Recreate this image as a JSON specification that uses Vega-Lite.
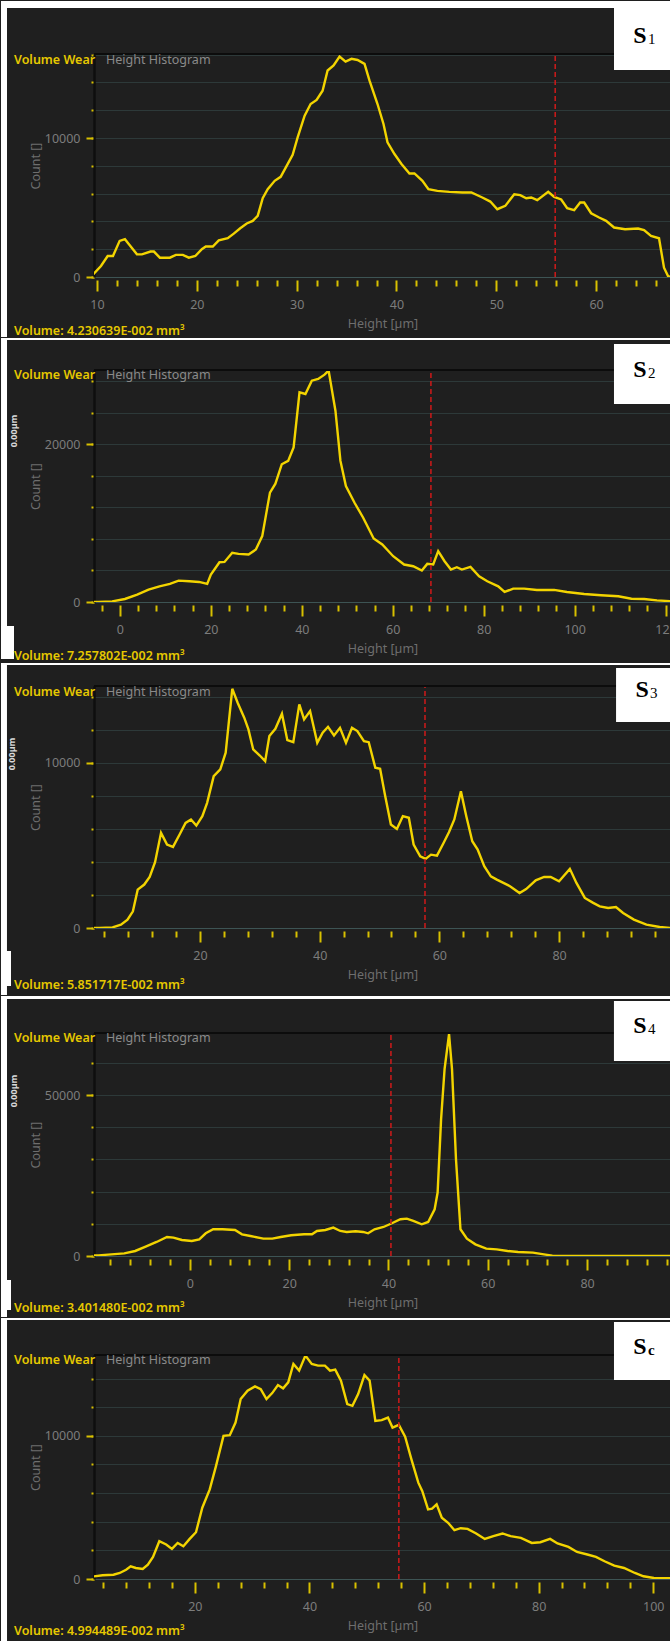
{
"$schema": "https://vega.github.io/schema/vega-lite/v6.json",
"background": "#1f1f1f",
"padding": 0,
"spacing": 0,
"bounds": "full",
"config": {
  "view": {"stroke": null},
  "axis": {"labelFont": "Noto Sans", "labelFontSize": 12.5, "labelColor": "#7c7c7c", "titleFont": "Noto Sans", "titleFontSize": 12.5, "titleFontWeight": "normal", "titleColor": "#6e6e6e", "tickColor": "#d8c000", "tickWidth": 2, "labelFlush": false, "labelOverlap": false},
  "axisX": {"domain": false, "grid": false, "offset": 3, "labelPadding": 7, "titlePadding": 7},
  "axisY": {"domain": true, "domainColor": "#0e0e0e", "domainWidth": 2, "minExtent": 46, "maxExtent": 46, "labelPadding": 6, "titlePadding": 6},
  "text": {"font": "Noto Sans"}
},
"datasets": {
"s1": [{"height":9.36,"count":0},{"height":10.4,"count":790},{"height":11.07,"count":1510},{"height":11.6,"count":1510},{"height":12.27,"count":2600},{"height":12.8,"count":2720},{"height":13.2,"count":2360},{"height":14.0,"count":1630},{"height":14.5,"count":1630},{"height":15.36,"count":1830},{"height":15.7,"count":1830},{"height":16.3,"count":1390},{"height":17.3,"count":1390},{"height":17.9,"count":1590},{"height":18.6,"count":1590},{"height":19.2,"count":1390},{"height":19.85,"count":1510},{"height":20.5,"count":2000},{"height":20.9,"count":2190},{"height":21.6,"count":2190},{"height":22.2,"count":2640},{"height":23.1,"count":2790},{"height":23.7,"count":3125},{"height":24.35,"count":3510},{"height":25.0,"count":3850},{"height":25.6,"count":4040},{"height":26.1,"count":4400},{"height":26.6,"count":5670},{"height":27.1,"count":6320},{"height":27.8,"count":6920},{"height":28.4,"count":7210},{"height":29.0,"count":8000},{"height":29.6,"count":8800},{"height":30.1,"count":10050},{"height":30.8,"count":11610},{"height":31.4,"count":12450},{"height":32.0,"count":12740},{"height":32.6,"count":13410},{"height":33.1,"count":14860},{"height":33.7,"count":15220},{"height":34.3,"count":15870},{"height":34.9,"count":15500},{"height":35.5,"count":15700},{"height":36.1,"count":15620},{"height":36.8,"count":15340},{"height":37.3,"count":14130},{"height":38.1,"count":12450},{"height":38.7,"count":11010},{"height":39.1,"count":9690},{"height":39.8,"count":8850},{"height":40.5,"count":8130},{"height":41.3,"count":7450},{"height":41.8,"count":7450},{"height":42.6,"count":6920},{"height":43.2,"count":6320},{"height":44.1,"count":6200},{"height":45.3,"count":6130},{"height":46.6,"count":6080},{"height":47.5,"count":6080},{"height":48.6,"count":5720},{"height":49.4,"count":5430},{"height":50.1,"count":4880},{"height":50.9,"count":5120},{"height":51.8,"count":5960},{"height":52.4,"count":5890},{"height":53.0,"count":5670},{"height":53.5,"count":5720},{"height":54.1,"count":5530},{"height":55.2,"count":6130},{"height":55.8,"count":5770},{"height":56.5,"count":5580},{"height":57.1,"count":4950},{"height":57.8,"count":4810},{"height":58.4,"count":5360},{"height":58.8,"count":5360},{"height":59.5,"count":4590},{"height":60.3,"count":4280},{"height":61.0,"count":4040},{"height":61.8,"count":3560},{"height":62.9,"count":3440},{"height":64.2,"count":3490},{"height":64.8,"count":3370},{"height":65.5,"count":2960},{"height":66.3,"count":2790},{"height":66.8,"count":670},{"height":67.2,"count":70},{"height":67.5,"count":0}],
"s2": [{"height":-5.7,"count":0},{"height":-4.7,"count":0},{"height":-1.7,"count":85},{"height":1.1,"count":380},{"height":3.8,"count":930},{"height":6.3,"count":1570},{"height":8.7,"count":1990},{"height":11.0,"count":2290},{"height":12.9,"count":2710},{"height":15.3,"count":2630},{"height":17.4,"count":2540},{"height":19.2,"count":2290},{"height":20.0,"count":3470},{"height":21.9,"count":5040},{"height":23.0,"count":5080},{"height":24.7,"count":6230},{"height":26.1,"count":6100},{"height":28.3,"count":6020},{"height":29.9,"count":6650},{"height":31.3,"count":8350},{"height":33.0,"count":13860},{"height":34.2,"count":15000},{"height":35.6,"count":17460},{"height":37.0,"count":17880},{"height":38.2,"count":19580},{"height":39.5,"count":26570},{"height":40.8,"count":26360},{"height":42.2,"count":28050},{"height":43.6,"count":28260},{"height":45.0,"count":28810},{"height":45.9,"count":29320},{"height":47.4,"count":24240},{"height":48.5,"count":17880},{"height":49.7,"count":14700},{"height":51.6,"count":12580},{"height":53.5,"count":10680},{"height":55.8,"count":8050},{"height":57.7,"count":7290},{"height":60.1,"count":5800},{"height":62.5,"count":4750},{"height":64.5,"count":4530},{"height":66.4,"count":3980},{"height":67.6,"count":4830},{"height":68.9,"count":4750},{"height":70.0,"count":6440},{"height":71.4,"count":5170},{"height":72.8,"count":4110},{"height":74.1,"count":4410},{"height":75.2,"count":4110},{"height":77.1,"count":4450},{"height":79.0,"count":3260},{"height":80.8,"count":2630},{"height":83.2,"count":1990},{"height":84.6,"count":1270},{"height":86.5,"count":1690},{"height":88.9,"count":1690},{"height":91.7,"count":1530},{"height":95.5,"count":1530},{"height":98.3,"count":1270},{"height":102.1,"count":1020},{"height":105.8,"count":850},{"height":109.6,"count":720},{"height":112.5,"count":420},{"height":115.3,"count":380},{"height":118.1,"count":210},{"height":121.7,"count":85}],
"s3": [{"height":2.3,"count":0},{"height":3.2,"count":0},{"height":5.4,"count":40},{"height":6.8,"count":200},{"height":7.9,"count":500},{"height":8.8,"count":1010},{"height":9.6,"count":2320},{"height":10.7,"count":2630},{"height":11.6,"count":3090},{"height":12.5,"count":3980},{"height":13.5,"count":5760},{"height":14.5,"count":5050},{"height":15.5,"count":4910},{"height":16.6,"count":5660},{"height":17.6,"count":6360},{"height":18.5,"count":6570},{"height":19.4,"count":6200},{"height":20.4,"count":6770},{"height":21.2,"count":7580},{"height":22.3,"count":9190},{"height":23.4,"count":9600},{"height":24.3,"count":10610},{"height":25.4,"count":14480},{"height":26.3,"count":13640},{"height":27.4,"count":12730},{"height":28.1,"count":12020},{"height":28.9,"count":10810},{"height":30.0,"count":10440},{"height":30.9,"count":10100},{"height":31.6,"count":11620},{"height":32.6,"count":12060},{"height":33.7,"count":12970},{"height":34.6,"count":11370},{"height":35.6,"count":11250},{"height":36.6,"count":13540},{"height":37.4,"count":12630},{"height":38.4,"count":13130},{"height":39.6,"count":11210},{"height":40.5,"count":11820},{"height":41.4,"count":12180},{"height":42.4,"count":11660},{"height":43.4,"count":12120},{"height":44.4,"count":11210},{"height":45.4,"count":12120},{"height":46.3,"count":11920},{"height":47.4,"count":11310},{"height":48.2,"count":11250},{"height":49.3,"count":9700},{"height":50.1,"count":9640},{"height":50.9,"count":8080},{"height":51.9,"count":6260},{"height":52.9,"count":6000},{"height":53.9,"count":6770},{"height":54.9,"count":6670},{"height":55.7,"count":5050},{"height":56.8,"count":4340},{"height":57.7,"count":4180},{"height":58.6,"count":4440},{"height":59.6,"count":4380},{"height":60.7,"count":5150},{"height":61.6,"count":5800},{"height":62.5,"count":6570},{"height":63.6,"count":8280},{"height":64.5,"count":6770},{"height":65.5,"count":5250},{"height":66.4,"count":4750},{"height":67.5,"count":3740},{"height":68.6,"count":3130},{"height":69.6,"count":2930},{"height":70.7,"count":2730},{"height":71.8,"count":2530},{"height":73.4,"count":2120},{"height":74.5,"count":2360},{"height":76.1,"count":2890},{"height":77.5,"count":3090},{"height":78.6,"count":3090},{"height":80.0,"count":2830},{"height":81.8,"count":3580},{"height":82.9,"count":2730},{"height":84.3,"count":1820},{"height":85.7,"count":1520},{"height":86.8,"count":1310},{"height":88.2,"count":1210},{"height":89.5,"count":1270},{"height":90.7,"count":910},{"height":92.5,"count":510},{"height":94.6,"count":200},{"height":96.8,"count":60},{"height":98.8,"count":0}],
"s4": [{"height":-19.3,"count":150},{"height":-18.4,"count":210},{"height":-15.8,"count":520},{"height":-13.2,"count":830},{"height":-11.0,"count":1560},{"height":-8.9,"count":2900},{"height":-6.7,"count":4360},{"height":-4.6,"count":5910},{"height":-3.3,"count":5710},{"height":-1.6,"count":4980},{"height":0.4,"count":4670},{"height":1.9,"count":5190},{"height":3.2,"count":7050},{"height":4.7,"count":8300},{"height":6.6,"count":8300},{"height":9.1,"count":8090},{"height":10.5,"count":6740},{"height":12.2,"count":6220},{"height":14.8,"count":5390},{"height":16.6,"count":5390},{"height":18.3,"count":5910},{"height":20.4,"count":6430},{"height":23.0,"count":6740},{"height":24.6,"count":6740},{"height":25.6,"count":7780},{"height":27.3,"count":8090},{"height":28.9,"count":8820},{"height":30.3,"count":7780},{"height":31.6,"count":7470},{"height":33.4,"count":7680},{"height":34.9,"count":7470},{"height":35.9,"count":7050},{"height":37.2,"count":8300},{"height":39.0,"count":9020},{"height":40.7,"count":10170},{"height":42.4,"count":11410},{"height":43.7,"count":11620},{"height":45.0,"count":10890},{"height":46.7,"count":9850},{"height":48.0,"count":10580},{"height":49.3,"count":14520},{"height":49.9,"count":19710},{"height":50.6,"count":42530},{"height":51.3,"count":58090},{"height":52.2,"count":68980},{"height":52.8,"count":58090},{"height":53.6,"count":30080},{"height":54.5,"count":8300},{"height":55.8,"count":5390},{"height":57.5,"count":3630},{"height":59.7,"count":2280},{"height":61.8,"count":2070},{"height":64.0,"count":1560},{"height":66.1,"count":1240},{"height":69.1,"count":1040},{"height":71.3,"count":520},{"height":73.0,"count":100},{"height":75.0,"count":0},{"height":85.0,"count":0},{"height":96.9,"count":0}],
"s5": [{"height":2.4,"count":180},{"height":3.9,"count":260},{"height":5.8,"count":300},{"height":6.9,"count":420},{"height":8.0,"count":650},{"height":8.8,"count":890},{"height":9.7,"count":770},{"height":10.9,"count":700},{"height":11.8,"count":1000},{"height":12.7,"count":1540},{"height":13.8,"count":2640},{"height":15.0,"count":2410},{"height":16.0,"count":2100},{"height":17.0,"count":2520},{"height":18.0,"count":2290},{"height":19.1,"count":2800},{"height":20.2,"count":3270},{"height":21.3,"count":4980},{"height":22.6,"count":6260},{"height":23.7,"count":7900},{"height":25.0,"count":10000},{"height":26.1,"count":10050},{"height":27.1,"count":10930},{"height":28.0,"count":12570},{"height":29.2,"count":13150},{"height":30.5,"count":13460},{"height":31.5,"count":13270},{"height":32.5,"count":12570},{"height":33.5,"count":12990},{"height":34.5,"count":13550},{"height":35.4,"count":13320},{"height":36.3,"count":13740},{"height":37.2,"count":15020},{"height":38.2,"count":14560},{"height":39.3,"count":15610},{"height":40.4,"count":15020},{"height":41.5,"count":14910},{"height":42.7,"count":14910},{"height":43.6,"count":14560},{"height":44.5,"count":14630},{"height":45.5,"count":13860},{"height":46.6,"count":12220},{"height":47.5,"count":12100},{"height":48.5,"count":12920},{"height":49.6,"count":14250},{"height":50.5,"count":13860},{"height":51.5,"count":11050},{"height":52.6,"count":11100},{"height":53.7,"count":11280},{"height":54.5,"count":10580},{"height":55.6,"count":10770},{"height":56.7,"count":9950},{"height":57.8,"count":8360},{"height":59.0,"count":6730},{"height":59.7,"count":6140},{"height":60.7,"count":4860},{"height":61.4,"count":4910},{"height":62.2,"count":5210},{"height":63.1,"count":4280},{"height":64.2,"count":3930},{"height":65.3,"count":3410},{"height":66.4,"count":3550},{"height":67.6,"count":3500},{"height":69.1,"count":3180},{"height":70.6,"count":2800},{"height":72.1,"count":2990},{"height":73.7,"count":3180},{"height":75.1,"count":2990},{"height":76.9,"count":2870},{"height":78.8,"count":2520},{"height":80.3,"count":2570},{"height":82.0,"count":2800},{"height":83.3,"count":2480},{"height":85.2,"count":2240},{"height":86.7,"count":1890},{"height":88.5,"count":1710},{"height":90.0,"count":1540},{"height":91.5,"count":1240},{"height":93.2,"count":930},{"height":94.9,"count":770},{"height":96.8,"count":420},{"height":98.3,"count":190},{"height":100.1,"count":70},{"height":103.1,"count":50}]
},
"vconcat": [
{
 "width": 577, "height": 223,
 "data": {"values": [{}]},
 "resolve": {"axis": {"x": "independent", "y": "independent"}},
 "layer": [
  {"data": {"name": "s1"}, "mark": {"type": "line", "color": "#f3d400", "strokeWidth": 2.4, "clip": true},
   "encoding": {
    "x": {"field": "height", "type": "quantitative", "scale": {"domain": [9.7, 67.5], "nice": false, "zero": false},
      "axis": {"orient": "bottom", "title": "Height [µm]", "format": "d", "labelOverlap": false, "values": [10,20,30,40,50,60], "tickSize": 11, "grid": false}},
    "y": {"field": "count", "type": "quantitative", "scale": {"domain": [0, 16050], "nice": false},
      "axis": {"orient": "left", "title": "Count []", "format": "d", "labelOverlap": false, "values": [0,10000], "tickSize": 8, "grid": false}}
   }},
  {"mark": {"type": "rule", "color": "#c41a1a", "strokeWidth": 1.6, "strokeDash": [5, 3]},
   "encoding": {
    "x": {"datum": 55.9, "axis": {"orient": "bottom", "title": null, "labels": false, "values": [12,14,16,18,22,24,26,28,32,34,36,38,42,44,46,48,52,54,56,58,62,64,66], "tickSize": 6, "grid": false}},
    "y": {"datum": 0, "axis": {"orient": "left", "title": null, "labels": false, "values": [0,2000,4000,6000,8000,10000,12000,14000,16000], "tickSize": 3, "grid": true, "gridColor": {"condition": {"test": "datum.value === 0", "value": "#3d5454"}, "value": "#2d3939"}}},
    "y2": {"datum": 16050}}},
  {"mark": {"type": "rule", "color": "#0c0c0c", "strokeWidth": 2}, "encoding": {"x": {"datum": 9.7, "axis": null}, "x2": {"datum": 67.5}, "y": {"datum": 16050, "axis": null}}},
  {"mark": {"type": "rect", "color": "#ffffff"}, "encoding": {"x": {"datum": 0.384, "axis": null}, "x2": {"datum": 67.5}, "y": {"datum": 19361, "axis": null}, "y2": {"datum": 19865}}},
  {"mark": {"type": "rect", "color": "#ffffff"}, "encoding": {"x": {"datum": 0.384, "axis": null}, "x2": {"datum": 0.985}, "y": {"datum": -4318, "axis": null}, "y2": {"datum": 19865}}},
  {"mark": {"type": "rect", "color": "#ffffff"}, "encoding": {"x": {"datum": 61.79, "axis": null}, "x2": {"datum": 67.5}, "y": {"datum": 14898, "axis": null}, "y2": {"datum": 19361}}},
  {"mark": {"type": "text", "text": "S", "font": "Liberation Serif", "fontSize": 24, "fontWeight": "bold", "color": "#000000", "align": "center", "baseline": "alphabetic", "dx": 26, "dy": 35}, "encoding": {"x": {"datum": 61.79, "axis": null}, "y": {"datum": 19361, "axis": null}}},
  {"mark": {"type": "text", "text": "1", "font": "Liberation Serif", "fontSize": 15, "color": "#000000", "align": "left", "baseline": "alphabetic", "dx": 34, "dy": 36}, "encoding": {"x": {"datum": 61.79, "axis": null}, "y": {"datum": 19361, "axis": null}}},
  {"mark": {"type": "text", "text": "Volume Wear", "fontSize": 12.5, "fontWeight": 600, "color": "#e6c800", "align": "left", "baseline": "middle", "dx": -80, "dy": 6}, "encoding": {"x": {"datum": 9.7, "axis": null}, "y": {"datum": 16050, "axis": null}}},
  {"mark": {"type": "text", "text": "Height Histogram", "fontSize": 12.5, "color": "#8a8a8a", "align": "left", "baseline": "middle", "dx": 12, "dy": 6}, "encoding": {"x": {"datum": 9.7, "axis": null}, "y": {"datum": 16050, "axis": null}}},
  {"mark": {"type": "text", "text": "Volume: 4.230639E-002 mm³", "fontSize": 12.5, "fontWeight": 600, "color": "#e6c800", "align": "left", "baseline": "middle", "dx": -80, "dy": 54}, "encoding": {"x": {"datum": 9.7, "axis": null}, "y": {"datum": 0, "axis": null}}}
 ]
},
{
 "width": 577, "height": 232,
 "data": {"values": [{}]},
 "resolve": {"axis": {"x": "independent", "y": "independent"}},
 "layer": [
  {"data": {"name": "s2"}, "mark": {"type": "line", "color": "#f3d400", "strokeWidth": 2.4, "clip": true},
   "encoding": {
    "x": {"field": "height", "type": "quantitative", "scale": {"domain": [-5.7, 121.2], "nice": false, "zero": false},
      "axis": {"orient": "bottom", "title": "Height [µm]", "format": "d", "labelOverlap": false, "values": [0,20,40,60,80,100,120], "tickSize": 11, "grid": false}},
    "y": {"field": "count", "type": "quantitative", "scale": {"domain": [0, 29400], "nice": false},
      "axis": {"orient": "left", "title": "Count []", "format": "d", "labelOverlap": false, "values": [0,20000], "tickSize": 8, "grid": false}}
   }},
  {"mark": {"type": "rule", "color": "#c41a1a", "strokeWidth": 1.6, "strokeDash": [5, 3]},
   "encoding": {
    "x": {"datum": 68.4, "axis": {"orient": "bottom", "title": null, "labels": false, "values": [-4,4,8,12,16,24,28,32,36,44,48,52,56,64,68,72,76,84,88,92,96,104,108,112,116], "tickSize": 6, "grid": false}},
    "y": {"datum": 0, "axis": {"orient": "left", "title": null, "labels": false, "values": [0,4000,8000,12000,16000,20000,24000,28000], "tickSize": 3, "grid": true, "gridColor": {"condition": {"test": "datum.value === 0", "value": "#3d5454"}, "value": "#2d3939"}}},
    "y2": {"datum": 29400}}},
  {"mark": {"type": "rule", "color": "#0c0c0c", "strokeWidth": 2}, "encoding": {"x": {"datum": -5.7, "axis": null}, "x2": {"datum": 121.2}, "y": {"datum": 29400, "axis": null}}},
  {"mark": {"type": "rect", "color": "#ffffff"}, "encoding": {"x": {"datum": -26.15, "axis": null}, "x2": {"datum": 121.2}, "y": {"datum": 33202, "axis": null}, "y2": {"datum": 33455}}},
  {"mark": {"type": "rect", "color": "#ffffff"}, "encoding": {"x": {"datum": -26.15, "axis": null}, "x2": {"datum": -24.83}, "y": {"datum": -7223, "axis": null}, "y2": {"datum": 33455}}},
  {"mark": {"type": "rect", "color": "#ffffff"}, "encoding": {"x": {"datum": -26.15, "axis": null}, "x2": {"datum": -23.29}, "y": {"datum": -7223, "axis": null}, "y2": {"datum": -3041}}},
  {"mark": {"type": "rect", "color": "#ffffff"}, "encoding": {"x": {"datum": 108.66, "axis": null}, "x2": {"datum": 121.2}, "y": {"datum": 25091, "axis": null}, "y2": {"datum": 32695}}},
  {"mark": {"type": "text", "text": "S", "font": "Liberation Serif", "fontSize": 24, "fontWeight": "bold", "color": "#000000", "align": "center", "baseline": "alphabetic", "dx": 26, "dy": 33}, "encoding": {"x": {"datum": 108.66, "axis": null}, "y": {"datum": 32695, "axis": null}}},
  {"mark": {"type": "text", "text": "2", "font": "Liberation Serif", "fontSize": 15, "color": "#000000", "align": "left", "baseline": "alphabetic", "dx": 34, "dy": 34}, "encoding": {"x": {"datum": 108.66, "axis": null}, "y": {"datum": 32695, "axis": null}}},
  {"mark": {"type": "text", "text": "Volume Wear", "fontSize": 12.5, "fontWeight": 600, "color": "#e6c800", "align": "left", "baseline": "middle", "dx": -80, "dy": 5}, "encoding": {"x": {"datum": -5.7, "axis": null}, "y": {"datum": 29400, "axis": null}}},
  {"mark": {"type": "text", "text": "Height Histogram", "fontSize": 12.5, "color": "#8a8a8a", "align": "left", "baseline": "middle", "dx": 12, "dy": 5}, "encoding": {"x": {"datum": -5.7, "axis": null}, "y": {"datum": 29400, "axis": null}}},
  {"mark": {"type": "text", "text": "0.00µm", "fontSize": 9, "fontWeight": "bold", "color": "#d8d8d8", "angle": 270, "align": "center", "baseline": "middle", "dx": -61, "dy": -80}, "encoding": {"x": {"datum": -5.7, "axis": null}, "y": {"datum": 29400, "axis": null}}},
  {"mark": {"type": "text", "text": "Volume: 7.257802E-002 mm³", "fontSize": 12.5, "fontWeight": 600, "color": "#e6c800", "align": "left", "baseline": "middle", "dx": -80, "dy": 54}, "encoding": {"x": {"datum": -5.7, "axis": null}, "y": {"datum": 0, "axis": null}}}
 ]
},
{
 "width": 577, "height": 242,
 "data": {"values": [{}]},
 "resolve": {"axis": {"x": "independent", "y": "independent"}},
 "layer": [
  {"data": {"name": "s3"}, "mark": {"type": "line", "color": "#f3d400", "strokeWidth": 2.4, "clip": true},
   "encoding": {
    "x": {"field": "height", "type": "quantitative", "scale": {"domain": [2.3, 98.7], "nice": false, "zero": false},
      "axis": {"orient": "bottom", "title": "Height [µm]", "format": "d", "labelOverlap": false, "values": [20,40,60,80], "tickSize": 11, "grid": false}},
    "y": {"field": "count", "type": "quantitative", "scale": {"domain": [0, 14650], "nice": false},
      "axis": {"orient": "left", "title": "Count []", "format": "d", "labelOverlap": false, "values": [0,10000], "tickSize": 8, "grid": false}}
   }},
  {"mark": {"type": "rule", "color": "#c41a1a", "strokeWidth": 1.6, "strokeDash": [5, 3]},
   "encoding": {
    "x": {"datum": 57.6, "axis": {"orient": "bottom", "title": null, "labels": false, "values": [4,8,12,16,24,28,32,36,44,48,52,56,64,68,72,76,84,88,92,96], "tickSize": 6, "grid": false}},
    "y": {"datum": 0, "axis": {"orient": "left", "title": null, "labels": false, "values": [0,2000,4000,6000,8000,10000,12000,14000], "tickSize": 3, "grid": true, "gridColor": {"condition": {"test": "datum.value === 0", "value": "#3d5454"}, "value": "#2d3939"}}},
    "y2": {"datum": 14650}}},
  {"mark": {"type": "rule", "color": "#0c0c0c", "strokeWidth": 2}, "encoding": {"x": {"datum": 2.3, "axis": null}, "x2": {"datum": 98.7}, "y": {"datum": 14650, "axis": null}}},
  {"mark": {"type": "rect", "color": "#ffffff"}, "encoding": {"x": {"datum": -13.24, "axis": null}, "x2": {"datum": 98.7}, "y": {"datum": 15921, "axis": null}, "y2": {"datum": 16042}}},
  {"mark": {"type": "rect", "color": "#ffffff"}, "encoding": {"x": {"datum": -13.24, "axis": null}, "x2": {"datum": -12.24}, "y": {"datum": -4056, "axis": null}, "y2": {"datum": 16042}}},
  {"mark": {"type": "rect", "color": "#ffffff"}, "encoding": {"x": {"datum": -13.24, "axis": null}, "x2": {"datum": -11.57}, "y": {"datum": -3511, "axis": null}, "y2": {"datum": -1392}}},
  {"mark": {"type": "rect", "color": "#ffffff"}, "encoding": {"x": {"datum": 89.52, "axis": null}, "x2": {"datum": 98.7}, "y": {"datum": 12471, "axis": null}, "y2": {"datum": 15740}}},
  {"mark": {"type": "text", "text": "S", "font": "Liberation Serif", "fontSize": 24, "fontWeight": "bold", "color": "#000000", "align": "center", "baseline": "alphabetic", "dx": 26, "dy": 29}, "encoding": {"x": {"datum": 89.52, "axis": null}, "y": {"datum": 15740, "axis": null}}},
  {"mark": {"type": "text", "text": "3", "font": "Liberation Serif", "fontSize": 15, "color": "#000000", "align": "left", "baseline": "alphabetic", "dx": 34, "dy": 30}, "encoding": {"x": {"datum": 89.52, "axis": null}, "y": {"datum": 15740, "axis": null}}},
  {"mark": {"type": "text", "text": "Volume Wear", "fontSize": 12.5, "fontWeight": 600, "color": "#e6c800", "align": "left", "baseline": "middle", "dx": -80, "dy": 6}, "encoding": {"x": {"datum": 2.3, "axis": null}, "y": {"datum": 14650, "axis": null}}},
  {"mark": {"type": "text", "text": "Height Histogram", "fontSize": 12.5, "color": "#8a8a8a", "align": "left", "baseline": "middle", "dx": 12, "dy": 6}, "encoding": {"x": {"datum": 2.3, "axis": null}, "y": {"datum": 14650, "axis": null}}},
  {"mark": {"type": "text", "text": "0.00µm", "fontSize": 9, "fontWeight": "bold", "color": "#d8d8d8", "angle": 270, "align": "center", "baseline": "middle", "dx": -68, "dy": -82}, "encoding": {"x": {"datum": 2.3, "axis": null}, "y": {"datum": 14650, "axis": null}}},
  {"mark": {"type": "text", "text": "Volume: 5.851717E-002 mm³", "fontSize": 12.5, "fontWeight": 600, "color": "#e6c800", "align": "left", "baseline": "middle", "dx": -80, "dy": 57}, "encoding": {"x": {"datum": 2.3, "axis": null}, "y": {"datum": 0, "axis": null}}}
 ]
},
{
 "width": 577, "height": 223,
 "data": {"values": [{}]},
 "resolve": {"axis": {"x": "independent", "y": "independent"}},
 "layer": [
  {"data": {"name": "s4"}, "mark": {"type": "line", "color": "#f3d400", "strokeWidth": 2.4, "clip": true},
   "encoding": {
    "x": {"field": "height", "type": "quantitative", "scale": {"domain": [-19.3, 96.9], "nice": false, "zero": false},
      "axis": {"orient": "bottom", "title": "Height [µm]", "format": "d", "labelOverlap": false, "values": [0,20,40,60,80], "tickSize": 11, "grid": false}},
    "y": {"field": "count", "type": "quantitative", "scale": {"domain": [0, 69300], "nice": false},
      "axis": {"orient": "left", "title": "Count []", "format": "d", "labelOverlap": false, "values": [0,50000], "tickSize": 8, "grid": false}}
   }},
  {"mark": {"type": "rule", "color": "#c41a1a", "strokeWidth": 1.6, "strokeDash": [5, 3]},
   "encoding": {
    "x": {"datum": 40.5, "axis": {"orient": "bottom", "title": null, "labels": false, "values": [-16,-12,-8,-4,4,8,12,16,24,28,32,36,44,48,52,56,64,68,72,76,84,88,92,96], "tickSize": 6, "grid": false}},
    "y": {"datum": 0, "axis": {"orient": "left", "title": null, "labels": false, "values": [0,10000,20000,30000,40000,50000,60000], "tickSize": 3, "grid": true, "gridColor": {"condition": {"test": "datum.value === 0", "value": "#3d5454"}, "value": "#2d3939"}}},
    "y2": {"datum": 69300}}},
  {"mark": {"type": "rule", "color": "#0c0c0c", "strokeWidth": 2}, "encoding": {"x": {"datum": -19.3, "axis": null}, "x2": {"datum": 96.9}, "y": {"datum": 69300, "axis": null}}},
  {"mark": {"type": "rect", "color": "#ffffff"}, "encoding": {"x": {"datum": -38.03, "axis": null}, "x2": {"datum": 96.9}, "y": {"datum": 79866, "axis": null}, "y2": {"datum": 80798}}},
  {"mark": {"type": "rect", "color": "#ffffff"}, "encoding": {"x": {"datum": -38.03, "axis": null}, "x2": {"datum": -36.82}, "y": {"datum": -18957, "axis": null}, "y2": {"datum": 80798}}},
  {"mark": {"type": "rect", "color": "#ffffff"}, "encoding": {"x": {"datum": -38.03, "axis": null}, "x2": {"datum": -36.01}, "y": {"datum": -16781, "axis": null}, "y2": {"datum": -7458}}},
  {"mark": {"type": "rect", "color": "#ffffff"}, "encoding": {"x": {"datum": 85.41, "axis": null}, "x2": {"datum": 96.9}, "y": {"datum": 60599, "axis": null}, "y2": {"datum": 79244}}},
  {"mark": {"type": "text", "text": "S", "font": "Liberation Serif", "fontSize": 24, "fontWeight": "bold", "color": "#000000", "align": "center", "baseline": "alphabetic", "dx": 26, "dy": 32}, "encoding": {"x": {"datum": 85.41, "axis": null}, "y": {"datum": 79244, "axis": null}}},
  {"mark": {"type": "text", "text": "4", "font": "Liberation Serif", "fontSize": 15, "color": "#000000", "align": "left", "baseline": "alphabetic", "dx": 34, "dy": 33}, "encoding": {"x": {"datum": 85.41, "axis": null}, "y": {"datum": 79244, "axis": null}}},
  {"mark": {"type": "text", "text": "Volume Wear", "fontSize": 12.5, "fontWeight": 600, "color": "#e6c800", "align": "left", "baseline": "middle", "dx": -80, "dy": 5}, "encoding": {"x": {"datum": -19.3, "axis": null}, "y": {"datum": 69300, "axis": null}}},
  {"mark": {"type": "text", "text": "Height Histogram", "fontSize": 12.5, "color": "#8a8a8a", "align": "left", "baseline": "middle", "dx": 12, "dy": 5}, "encoding": {"x": {"datum": -19.3, "axis": null}, "y": {"datum": 69300, "axis": null}}},
  {"mark": {"type": "text", "text": "0.00µm", "fontSize": 9, "fontWeight": "bold", "color": "#d8d8d8", "angle": 270, "align": "center", "baseline": "middle", "dx": -58, "dy": -80}, "encoding": {"x": {"datum": -19.3, "axis": null}, "y": {"datum": 69300, "axis": null}}},
  {"mark": {"type": "text", "text": "Volume: 3.401480E-002 mm³", "fontSize": 12.5, "fontWeight": 600, "color": "#e6c800", "align": "left", "baseline": "middle", "dx": -80, "dy": 52}, "encoding": {"x": {"datum": -19.3, "axis": null}, "y": {"datum": 0, "axis": null}}}
 ]
},
{
 "width": 577, "height": 224,
 "data": {"values": [{}]},
 "resolve": {"axis": {"x": "independent", "y": "independent"}},
 "layer": [
  {"data": {"name": "s5"}, "mark": {"type": "line", "color": "#f3d400", "strokeWidth": 2.4, "clip": true},
   "encoding": {
    "x": {"field": "height", "type": "quantitative", "scale": {"domain": [2.4, 103.1], "nice": false, "zero": false},
      "axis": {"orient": "bottom", "title": "Height [µm]", "format": "d", "labelOverlap": false, "values": [20,40,60,80,100], "tickSize": 11, "grid": false}},
    "y": {"field": "count", "type": "quantitative", "scale": {"domain": [0, 15650], "nice": false},
      "axis": {"orient": "left", "title": "Count []", "format": "d", "labelOverlap": false, "values": [0,10000], "tickSize": 8, "grid": false}}
   }},
  {"mark": {"type": "rule", "color": "#c41a1a", "strokeWidth": 1.6, "strokeDash": [5, 3]},
   "encoding": {
    "x": {"datum": 55.6, "axis": {"orient": "bottom", "title": null, "labels": false, "values": [4,8,12,16,24,28,32,36,44,48,52,56,64,68,72,76,84,88,92,96], "tickSize": 6, "grid": false}},
    "y": {"datum": 0, "axis": {"orient": "left", "title": null, "labels": false, "values": [0,2000,4000,6000,8000,10000,12000,14000], "tickSize": 3, "grid": true, "gridColor": {"condition": {"test": "datum.value === 0", "value": "#3d5454"}, "value": "#2d3939"}}},
    "y2": {"datum": 15650}}},
  {"mark": {"type": "rule", "color": "#0c0c0c", "strokeWidth": 2}, "encoding": {"x": {"datum": 2.4, "axis": null}, "x2": {"datum": 103.1}, "y": {"datum": 15650, "axis": null}}},
  {"mark": {"type": "rect", "color": "#ffffff"}, "encoding": {"x": {"datum": -13.83, "axis": null}, "x2": {"datum": 103.1}, "y": {"datum": 18095, "axis": null}, "y2": {"datum": 18235}}},
  {"mark": {"type": "rect", "color": "#ffffff"}, "encoding": {"x": {"datum": -13.83, "axis": null}, "x2": {"datum": -12.78}, "y": {"datum": -5030, "axis": null}, "y2": {"datum": 18235}}},
  {"mark": {"type": "rect", "color": "#ffffff"}, "encoding": {"x": {"datum": 93.15, "axis": null}, "x2": {"datum": 103.1}, "y": {"datum": 13903, "axis": null}, "y2": {"datum": 17956}}},
  {"mark": {"type": "text", "text": "S", "font": "Liberation Serif", "fontSize": 24, "fontWeight": "bold", "color": "#000000", "align": "center", "baseline": "alphabetic", "dx": 26, "dy": 32}, "encoding": {"x": {"datum": 93.15, "axis": null}, "y": {"datum": 17956, "axis": null}}},
  {"mark": {"type": "text", "text": "c", "font": "Liberation Serif", "fontSize": 15, "fontWeight": "bold", "color": "#000000", "align": "left", "baseline": "alphabetic", "dx": 34, "dy": 33}, "encoding": {"x": {"datum": 93.15, "axis": null}, "y": {"datum": 17956, "axis": null}}},
  {"mark": {"type": "text", "text": "Volume Wear", "fontSize": 12.5, "fontWeight": 600, "color": "#e6c800", "align": "left", "baseline": "middle", "dx": -80, "dy": 5}, "encoding": {"x": {"datum": 2.4, "axis": null}, "y": {"datum": 15650, "axis": null}}},
  {"mark": {"type": "text", "text": "Height Histogram", "fontSize": 12.5, "color": "#8a8a8a", "align": "left", "baseline": "middle", "dx": 12, "dy": 5}, "encoding": {"x": {"datum": 2.4, "axis": null}, "y": {"datum": 15650, "axis": null}}},
  {"mark": {"type": "text", "text": "Volume: 4.994489E-002 mm³", "fontSize": 12.5, "fontWeight": 600, "color": "#e6c800", "align": "left", "baseline": "middle", "dx": -80, "dy": 52}, "encoding": {"x": {"datum": 2.4, "axis": null}, "y": {"datum": 0, "axis": null}}}
 ]
}
]
}
